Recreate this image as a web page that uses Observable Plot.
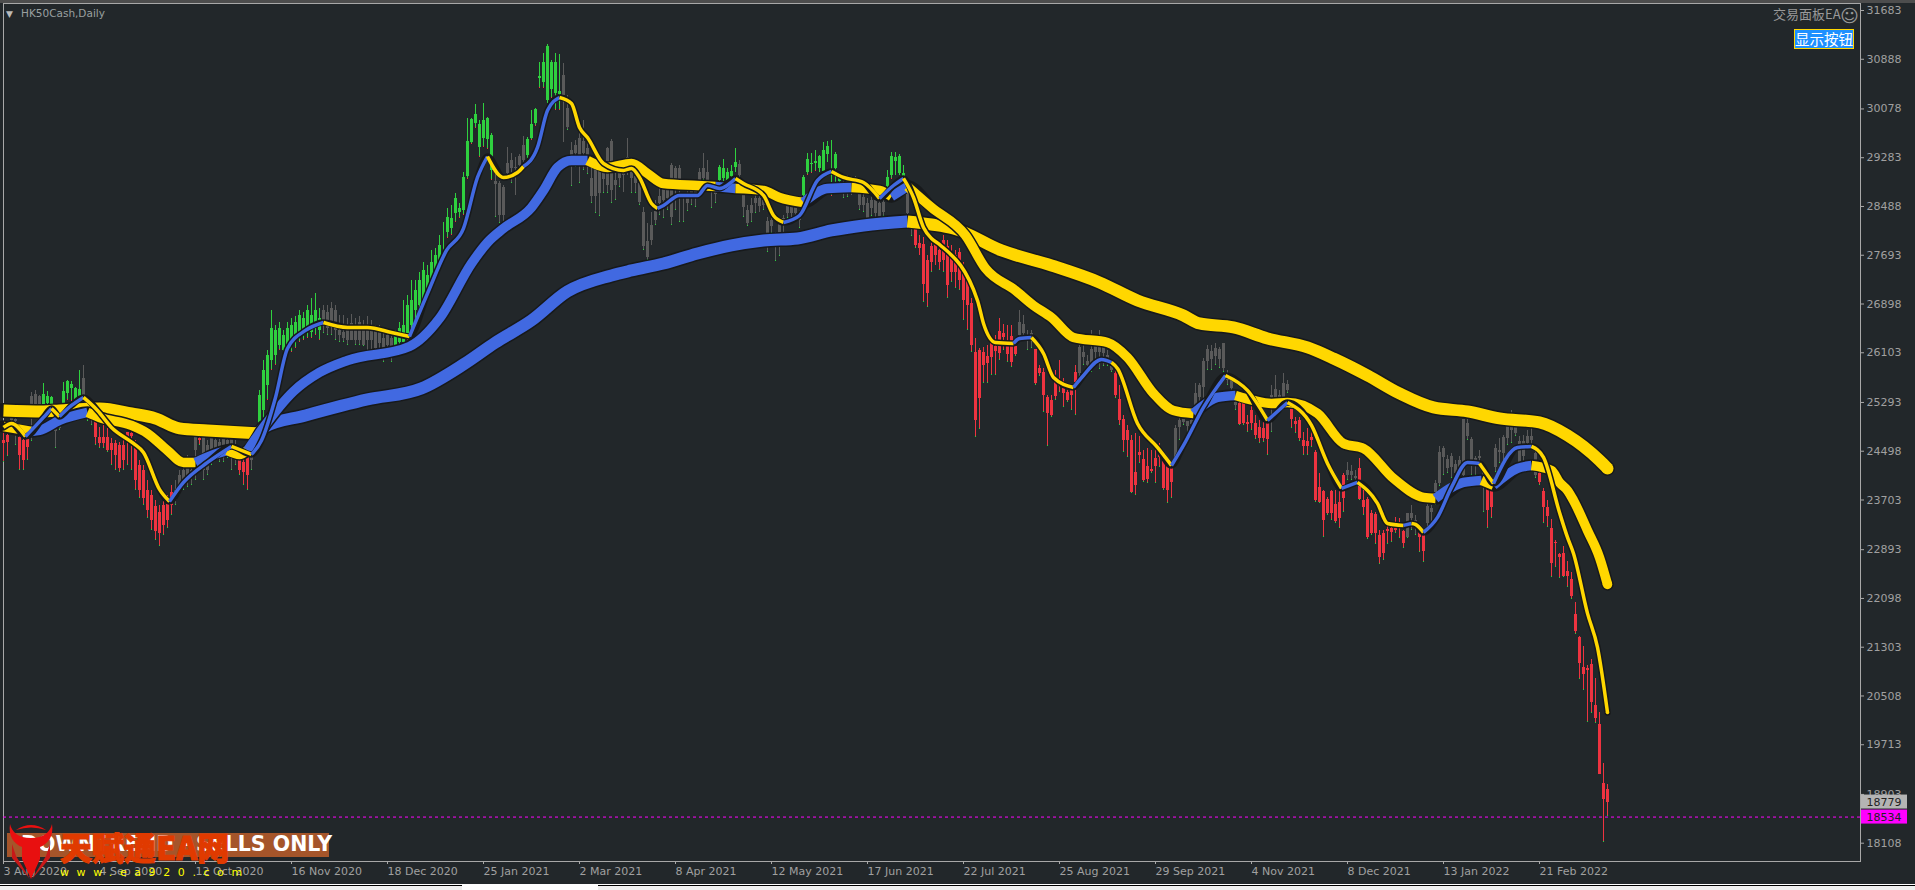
<!DOCTYPE html>
<html><head><meta charset="utf-8">
<script src="https://cdn.jsdelivr.net/npm/d3@7"></script>
<script src="https://cdn.jsdelivr.net/npm/@observablehq/plot@0.6"></script>
<style>
html,body{margin:0;padding:0;width:1915px;height:890px;overflow:hidden;background:#22272a}
#c{position:absolute;left:0;top:0}
.o{position:absolute;white-space:nowrap;font-family:"DejaVu Sans",sans-serif}
</style></head><body>
<div id="c"></div>
<div class="o" style="left:0;top:0;width:1915px;height:3px;background:#4d4d4d"></div>
<div class="o" style="left:0;top:884px;width:1915px;height:1px;background:#fff"></div>
<div class="o" style="left:0;top:885px;width:1915px;height:1px;background:#000"></div>
<div class="o" style="left:0;top:886px;width:1915px;height:4px;background:#f0f0f0"></div>
<div class="o" style="left:462px;top:885px;width:136px;height:5px;background:#fff"></div>
<div class="o" style="left:6px;top:9px;font-size:9px;color:#bbb">▼</div>
<div class="o" style="left:21px;top:7px;font-size:10.5px;color:#9aa0a0">HK50Cash,Daily</div>
<div class="o" style="left:1773px;top:4px;font-family:'Noto Sans CJK SC';font-size:13px;color:#999">交易面板EA</div>
<div class="o" style="left:1840px;top:5px;font-size:18px;color:#999">☺</div>
<div class="o" style="left:1794px;top:29px;width:58px;height:18px;background:#1e90ff;border:1px solid #ffd700;color:#fff;font-family:'Noto Sans CJK SC';font-size:14.5px;line-height:18px;text-align:center">显示按钮</div>
<div class="o" style="left:7px;top:833px;width:322px;height:24px;background:#a5552a"></div>
<div class="o" style="left:21px;top:832px;font-weight:bold;font-size:20.5px;line-height:24px;color:#fff">DOWNTREND - SELLS ONLY</div>
<div class="o" style="left:60px;top:824px;font-family:'Noto Sans CJK SC';font-weight:900;font-size:32px;line-height:44px;color:#e03a00;-webkit-text-stroke:1px #e03a00">天赋通EA网</div>
<svg class="o" style="left:8px;top:822px" width="46" height="58" viewBox="0 0 46 58">
<path d="M2 2C0 14 6 22 14 25L14 37L23 57L32 37L32 25C40 22 46 14 44 2C42 10 36 16 23 16C10 16 4 10 2 2Z" fill="#e81010"/>
<path d="M8 8Q23 -2 38 8Q23 3 8 8Z" fill="#e81010"/>
<path d="M4 22L4 36L22 57L8 34Z" fill="#c81818"/><path d="M42 22L42 36L24 57L38 34Z" fill="#c81818"/>
</svg>
<div class="o" style="left:60px;top:866px;font-size:11px;letter-spacing:7.6px;color:#ffff00">www.ea920.com</div>
<script>
const priceTicks = [31683,30888,30078,29283,28488,27693,26898,26103,25293,24498,23703,22893,22098,21303,20508,19713,18903,18108];
const dateBars = [0,24,48,72,96,120,144,168,192,216,240,264,288,312,336,360,384];
const dateLabels = ["3 Aug 2020","4 Sep 2020","12 Oct 2020","16 Nov 2020","18 Dec 2020","25 Jan 2021","2 Mar 2021","8 Apr 2021","12 May 2021","17 Jun 2021","22 Jul 2021","25 Aug 2021","29 Sep 2021","4 Nov 2021","8 Dec 2021","13 Jan 2022","21 Feb 2022"];
const bidPrice = 18534, lastPrice = 18779;

// rows: high, body top, body bottom, low
const bars0 = [[24804,24674,24625,24315],[24804,24755,24642,24413],[25081,25049,25000,24918],[25049,25016,24983,24592],[24755,24723,24430,24185],[24755,24674,24348,24185],[24690,24690,24560,24348],[25456,25391,25244,24658],[25489,25424,25244,25212],[25407,25391,25244,25196],[25603,25424,25244,25196],[25473,25391,25277,25244],[25391,25375,25261,25228],[24918,24870,24821,24544],[24951,24918,24870,24837],[25619,25473,25244,25196],[25652,25635,25440,25326],[25635,25587,25521,25309],[25538,25521,25342,25277],[25815,25505,25375,25326],[25896,25684,25407,25326],[25293,25244,25163,24983],[25244,25244,25163,24918],[25065,25000,24723,24592]];
const tone0 = "RRNNRRRNNNGGGNNGGGGGNNNR";
const bars1 = [[24886,24723,24625,24544],[24918,24723,24625,24544],[24870,24723,24511,24478],[24707,24625,24511,24266],[24674,24625,24430,24185],[24641,24592,24218,24152],[24772,24592,24348,24185],[24804,24804,24723,24266],[24820,24788,24739,24185],[24674,24592,24022,23859],[24348,24266,23859,23729],[24266,24185,23729,23614],[24022,23859,23533,23403],[23859,23778,23370,23207],[23696,23598,23191,23044],[23614,23500,23158,22946],[23696,23614,23288,23126],[23777,23696,23370,23240],[23940,23826,23614,23451],[24022,23859,23696,23615],[24185,24104,23859,23777],[24348,24185,23989,23859],[24429,24266,24055,23908],[24315,24185,24104,23940]];
const tone1 = "RRRRRRRRRRRRRRRRRRRNNNNN";
const bars2 = [[24804,24739,24511,24022],[24739,24707,24674,24593],[24755,24723,24185,24022],[24674,24593,24185,24104],[24837,24707,24430,24267],[24707,24674,24479,24348],[24804,24642,24430,24316],[24707,24707,24478,24316],[24837,24674,24511,24381],[24804,24707,24544,24185],[24674,24593,24430,24267],[24430,24381,24185,24104],[24430,24316,24153,23941],[24511,24430,24104,23859],[24593,24511,24348,24185],[24739,24674,24511,24430],[25489,25407,24804,24592],[25977,25815,25163,24918],[26141,26060,25571,25326],[26793,26499,25978,25815],[26548,26467,26060,25896],[26597,26499,26222,26141],[26467,26385,26141,25978],[26597,26499,26174,26060]];
const tone2 = "NRNNNNNNNNNRRRNGGGGGGGGG";
const bars3 = [[26662,26548,26222,26109],[26695,26597,26304,26174],[26793,26711,26385,26271],[26760,26662,26385,26304],[26874,26793,26467,26336],[26988,26711,26434,26336],[27070,26793,26548,26385],[26825,26662,26467,26304],[26874,26793,26548,26418],[26874,26760,26499,26385],[26923,26826,26598,26385],[26874,26793,26467,26304],[26711,26467,26386,26271],[26711,26434,26336,26271],[26662,26548,26304,26223],[26728,26581,26304,26304],[26662,26549,26304,26223],[26695,26598,26304,26223],[26630,26467,26222,26206],[26695,26516,26304,26109],[26630,26467,26304,25994],[26549,26467,26174,26109],[26549,26467,26255,26141],[26434,26336,26174,25945]];
const tone3 = "GGGGGGGGNNNNNNNNNNNNNNNN";
const bars4 = [[26467,26385,26223,26141],[26434,26336,26141,25945],[26467,26385,26174,26109],[26597,26499,26271,26174],[26956,26548,26271,26141],[27038,26874,26385,26304],[27282,26956,26548,26467],[27282,27119,26793,26597],[27412,27282,26874,26793],[27575,27445,26956,26874],[27526,27364,27119,26961],[27771,27575,27250,27152],[27804,27689,27364,27282],[28016,27853,27526,27412],[28228,27771,27771,27641],[28456,28309,28065,27967],[28504,28293,28130,28016],[28700,28619,28374,28228],[28537,28456,28391,28293],[29042,28961,28423,28342],[29923,29547,28977,28944],[29923,29906,29531,29499],[30151,29988,29841,29760],[29890,29825,29450,29287]];
const tone4 = "NNGGGGGGGGGGGGGGGGGGGGGG";
const bars5 = [[30167,29890,29597,29450],[29939,29923,29580,29433],[29678,29645,29075,28912],[29075,28896,28847,28309],[28896,28863,28342,28211],[28831,28798,28342,28211],[29450,29189,29026,28961],[29352,29238,29108,28863],[29287,29124,29108,28667],[29336,29303,29156,29075],[29629,29482,29238,29156],[29613,29580,29319,29156],[30053,29825,29596,29564],[30086,30069,29841,29808],[30835,30607,30575,30412],[30982,30835,30510,30412],[31129,31096,30216,30167],[30868,30835,30395,30249],[30982,30835,30330,30053],[30966,30363,30314,30053],[30819,30624,30298,29531],[30298,30086,29776,29727],[29531,29401,29319,28814],[29564,29482,29352,29124]];
const tone5 = "GGGNNNNNNNNGGGGGGGGGNNNN";
const bars6 = [[29678,29596,29319,28863],[29890,29547,29352,29075],[29564,29433,29319,29017],[29108,28945,28651,28537],[29156,29091,28651,28374],[29156,29091,28700,28325],[29156,29091,28929,28700],[29450,29433,28831,28700],[29580,29547,28749,28537],[29075,28912,28831,28586],[29156,29042,28945,28798],[29075,29042,28993,28716],[29596,29287,29222,28993],[29238,29075,28945,28700],[29156,28977,28863,28700],[29059,28863,28553,28505],[28472,28390,27836,27771],[28211,27917,27657,27608],[28390,28179,27934,27852],[28586,28407,28260,28179],[28782,28651,28537,28342],[28830,28765,28586,28293],[28912,28912,28619,28423],[29189,29156,28309,28179]];
const tone6 = "NNNNNNNNNNNNNNNNNNNNNNNN";
const bars7 = [[29140,29108,28798,28423],[29156,29108,28749,28228],[28619,28553,28553,28228],[28749,28668,28537,28407],[28830,28749,28619,28505],[28880,28749,28651,28472],[29108,29042,28912,28814],[29352,29108,28945,28912],[29238,29042,28912,28863],[28912,28830,28716,28456],[28879,28814,28684,28537],[29156,29124,28912,28814],[29254,29108,28945,28782],[29108,29042,28912,28830],[29156,29059,28977,28879],[29433,29205,29124,29042],[29238,29173,28993,28863],[28749,28667,28472,28309],[28504,28423,28211,28162],[28619,28504,28374,28228],[28716,28619,28537,28374],[28700,28619,28488,28390],[28651,28586,28505,28423],[28309,28244,28032,27738]];
const tone7 = "NNNNNNNNNNNGGGGGNNNNNNNN";
const bars8 = [[28293,28260,28162,28048],[28065,28016,27934,27592],[28260,28195,28032,27673],[28342,28293,28195,28016],[28553,28488,28374,28293],[28537,28488,28374,28260],[28537,28472,28374,28227],[28423,28342,28260,28130],[28993,28960,28667,28618],[29352,29254,29042,29005],[29352,29189,29173,29026],[29401,29222,29189,29059],[29319,29303,29108,29042],[29531,29401,29059,29026],[29548,29466,29336,29205],[29570,29335,29335,28651],[29368,29336,29108,28879],[28993,28945,28896,28847],[29010,28977,28945,28619],[28993,28945,28879,28635],[28977,28912,28846,28667],[28977,28912,28879,28700],[28700,28700,28505,28423],[28716,28635,28505,28391]];
const tone8 = "NNNNNNNNGGGGGGGGGGNNNNNN";
const bars9 = [[28619,28537,28276,28227],[28667,28586,28456,28325],[28667,28586,28374,28260],[28619,28537,28293,28260],[28619,28553,28390,28325],[29075,28961,28814,28716],[29368,29303,28993,28944],[29368,29287,29222,28993],[29336,29303,29026,28993],[29156,29026,28961,28879],[28716,28684,28374,28342],[28325,28293,28227,27999],[28179,28130,27853,27804],[28016,27885,27804,27689],[27983,27869,27217,26923],[27689,27608,27070,26842],[27934,27836,27575,27412],[27934,27869,27689,27526],[27852,27771,27575,27445],[28016,27934,27608,27412],[27934,27836,27201,26989],[27853,27738,27413,27250],[27771,27689,27412,27152],[27804,27738,27282,27119]];
const tone9 = "NNNNNGGGGGNNRRRRRRRRRRRR";
const bars10 = [[27575,27478,26956,26630],[27363,27282,26875,26467],[26989,26907,26222,26109],[26336,26109,24998,24723],[26173,26141,25359,24853],[26190,26109,25896,25603],[26222,26043,25928,25603],[26353,26255,26027,25733],[26385,26206,26125,25733],[26662,26450,26092,25978],[26564,26418,26353,26141],[26548,26206,26076,25945],[26548,26369,25945,25864],[26304,26206,26076,26043],[26793,26597,26385,26304],[26711,26564,26418,26337],[26467,26385,26320,26141],[26467,26418,26353,26174],[26157,26157,25603,25570],[25897,25848,25766,25717],[25846,25782,25407,25130],[25407,25375,25114,24576],[25407,25326,25082,25049],[25815,25636,25391,25326]];
const tone10 = "RRRRRRRRRRRRRRNNNNRRRRRR";
const bars11 = [[25978,25619,25554,25456],[25684,25554,25440,25212],[25570,25456,25326,25293],[25587,25489,25407,25163],[25896,25782,25619,25081],[26255,26190,25766,25717],[26223,26109,26027,25896],[26060,25961,25896,25848],[26467,26157,25880,25782],[26222,26223,26109,25945],[26467,26320,26109,25831],[26320,26206,26092,25880],[26141,26060,25945,25880],[25978,25880,25815,25782],[25815,25766,25407,25358],[25570,25342,25000,24918],[25081,25016,24674,24478],[24918,24837,24674,24397],[24755,24674,23826,23810],[24788,24152,23940,23778],[24739,24478,24430,24299],[24511,24364,24022,23989],[24544,24250,24038,23973],[24511,24201,24169,24136]];
const tone11 = "RRRRRNNNNNNNNNRRRRRRRRRR";
const bars12 = [[24527,24380,24250,23973],[24625,24446,24397,24234],[24397,24332,23892,23859],[24315,24250,23859,23647],[24266,24218,23989,23729],[24918,24870,24397,24266],[25114,24999,24886,24674],[25130,25065,24967,24918],[24984,24983,24902,24804],[25033,25000,24935,24870],[25603,25440,25212,25049],[25603,25570,25375,25130],[26011,25961,25537,25163],[26223,26157,25961,25815],[26223,26125,25994,25815],[26255,26174,26043,25896],[26190,26157,25994,25847],[26255,26255,25848,25782],[25815,25733,25651,25570],[25733,25652,25521,25407],[25359,25293,25244,25163],[25326,25277,24935,24918],[25359,25277,24951,24919],[25081,24967,24935,24804]];
const tone12 = "RRRRRNNNNNNNNNNNNNNNNRRR";
const bars13 = [[25228,25163,24951,24837],[25081,24951,24755,24690],[24998,24886,24707,24625],[25081,24870,24707,24641],[25032,24951,24690,24429],[25571,25407,25342,24804],[25733,25505,25375,25326],[25489,25407,25375,25244],[25766,25603,25375,25326],[25651,25586,25489,25440],[25244,25179,25016,24870],[25049,24983,24935,24788],[25049,25000,24707,24658],[24804,24674,24576,24430],[24870,24657,24576,24430],[24870,24723,24674,24560],[24511,24479,23696,23663],[24136,23908,23664,23647],[23859,23843,23370,23093],[23745,23712,23484,23451],[23859,23843,23484,23370],[23859,23631,23354,23321],[23859,23664,23403,23240],[24136,24104,23729,23500]];
const tone13 = "RRRRRNNNNNRRRRRRRRRRRRRR";
const bars14 = [[24315,24185,24104,24022],[24266,24169,24104,24022],[24185,24087,24055,23973],[24381,24217,23712,23696],[23859,23696,23582,23452],[23745,23712,23093,23060],[23533,23484,23158,23126],[23500,23468,23158,22979],[23207,23126,22767,22653],[23207,23158,22832,22718],[23288,23223,23190,22979],[23305,23240,23174,23011],[23419,23240,23207,23158],[23403,23289,23256,23077],[23207,23191,22995,22914],[23484,23484,23093,23077],[23614,23484,23403,23207],[23451,23370,23337,23126],[23240,23174,23093,22849],[23174,23142,22865,22686],[23647,23598,23321,23207],[23614,23565,23500,23321],[24022,23973,23826,23614],[24576,24478,23973,23924]];
const tone14 = "NNNRRRRRRRRRRRRNNNRRNNNN";
const bars15 = [[24576,24544,24397,24103],[24429,24364,24218,24136],[24462,24413,24234,24055],[24348,24283,24136,24103],[24413,24348,24152,24055],[25016,25016,24104,24071],[25016,24951,24739,24674],[24723,24690,24266,24103],[24413,24381,24315,24104],[24511,24413,24381,24266],[24266,24152,24022,23500],[23908,23875,23533,23240],[23908,23875,23582,23403],[24609,24544,24234,24152],[24706,24511,24479,24299],[24755,24723,24462,24152],[24918,24902,24707,24592],[25163,24886,24837,24625],[24918,24886,24788,24739],[24739,24657,24315,24266],[24755,24657,24413,24299],[24837,24739,24625,24560],[24870,24739,24674,24576],[24593,24462,24104,24055]];
const tone15 = "NNNNNNNNNNNRRNNNNNNNNNNN";
const bars16 = [[24185,24136,23990,23941],[23892,23843,23582,23321],[23696,23582,23435,23256],[23386,23240,22670,22441],[23044,23011,22995,22604],[22832,22816,22767,22425],[22946,22832,22457,22441],[22702,22539,22457,22278],[22522,22408,22131,22082],[22033,21838,21561,21512],[21479,21463,21039,20778],[21316,20974,20860,20599],[21007,20958,20925,20077],[21105,21023,20404,20224],[20794,20355,20144,20061],[20240,20045,19230,19230],[19409,19083,18822,18122],[19068,18985,18773,18545]];
const tone16 = "RRRRRRRRRRRRRRRRRR";

// rows: bar number, price, segment tone starting at that knot (Y falling, B rising)
const slowLine = [[0,25163,"Y"],[10,25147,"Y"],[14,25163,"Y"],[24,25196,"Y"],[32,25114,"Y"],[38,25033,"Y"],[44,24870,"Y"],[51,24837,"Y"],[64,24788,"B"],[65,24886,"B"],[75.5,25081,"B"],[91,25342,"B"],[104.5,25522,"B"],[115,25913,"B"],[123,26271,"B"],[132,26630,"B"],[141,27103,"B"],[152,27364,"B"],[157,27445,"B"],[165,27559,"B"],[173.5,27722,"B"],[182,27853,"B"],[190,27934,"B"],[198.5,27967,"B"],[207,28097,"B"],[215,28179,"B"],[226,28244,"Y"],[232,28195,"Y"],[237.5,28130,"Y"],[249.5,27771,"Y"],[262,27526,"Y"],[274,27250,"Y"],[283.5,26956,"Y"],[295,26711,"Y"],[299,26581,"Y"],[307.5,26516,"Y"],[316,26337,"Y"],[326,26190,"Y"],[332.5,26010,"Y"],[341,25733,"Y"],[349,25440,"Y"],[357.5,25212,"Y"],[366,25147,"Y"],[374,25033,"Y"],[384,24967,"Y"],[391,24755,"Y"],[399,24348,"Y"],[401,24218,"Y"]];
const midLine = [[0,24902,"Y"],[7,24821,"B"],[9,24837,"B"],[14,25000,"B"],[21,25130,"Y"],[24,25049,"Y"],[32,24918,"Y"],[36,24788,"Y"],[41,24511,"Y"],[45,24315,"Y"],[48,24315,"B"],[52,24430,"B"],[56,24511,"Y"],[59,24446,"Y"],[61,24511,"B"],[65,24886,"B"],[72.5,25473,"B"],[79,25782,"B"],[86,25978,"B"],[101.5,26206,"B"],[109,26663,"B"],[117,27559,"B"],[121,27901,"B"],[125,28130,"B"],[132,28472,"B"],[135,28749,"B"],[138.5,29124,"B"],[142,29238,"B"],[146,29238,"Y"],[151,29124,"Y"],[157,29189,"Y"],[161,29026,"Y"],[165,28863,"Y"],[173.5,28830,"Y"],[178,28814,"B"],[183,28782,"Y"],[190,28749,"Y"],[194,28635,"Y"],[200,28553,"B"],[206,28782,"B"],[212,28798,"Y"],[219,28749,"Y"],[222,28651,"B"],[226,28814,"Y"],[232,28472,"Y"],[240.5,28016,"Y"],[245.5,27478,"Y"],[253,27119,"Y"],[257.5,26875,"Y"],[262,26679,"Y"],[267.5,26353,"Y"],[276,26271,"Y"],[281,26027,"Y"],[287.5,25440,"Y"],[292.5,25163,"Y"],[297.5,25114,"B"],[299,25196,"B"],[303.5,25375,"B"],[308,25408,"Y"],[312.5,25326,"Y"],[317,25277,"Y"],[321,25293,"Y"],[328.5,25114,"Y"],[335,24625,"Y"],[340,24544,"Y"],[347.5,24055,"Y"],[355,23745,"Y"],[358,23729,"B"],[365,23989,"B"],[369.5,24022,"Y"],[372.5,23940,"B"],[378.5,24218,"B"],[382,24266,"Y"],[387,24185,"Y"],[389,23989,"Y"],[391,23859,"Y"],[392.5,23696,"Y"],[396,23207,"Y"],[399,22767,"Y"],[401,22327,"Y"]];
const fastLine = [[0,24886,"Y"],[2,24951,"Y"],[5.5,24739,"B"],[10,25049,"B"],[12,25196,"Y"],[14,25065,"B"],[17,25244,"B"],[20,25375,"Y"],[23.5,25163,"Y"],[27,24886,"Y"],[32.5,24625,"Y"],[35,24478,"Y"],[39,23875,"Y"],[41.5,23679,"B"],[45,23989,"B"],[51,24315,"B"],[57,24576,"Y"],[62,24446,"B"],[64.5,24674,"B"],[68,25375,"B"],[71,26174,"B"],[75.5,26467,"B"],[80,26597,"Y"],[86,26516,"Y"],[91,26516,"Y"],[97,26434,"Y"],[101.5,26369,"B"],[106,27070,"B"],[110.75,27771,"B"],[115,28130,"B"],[118.5,28961,"B"],[121,29303,"Y"],[125,28961,"Y"],[128.5,29042,"Y"],[130,29140,"B"],[133.5,29450,"B"],[136,30053,"B"],[139,30265,"Y"],[142,30167,"Y"],[144,29776,"Y"],[146,29613,"Y"],[150,29189,"Y"],[155,29075,"Y"],[157,29108,"Y"],[159,28961,"Y"],[162,28537,"Y"],[163.5,28456,"B"],[165,28505,"B"],[169,28668,"B"],[173.5,28668,"B"],[176,28830,"B"],[179,28782,"B"],[183,28945,"Y"],[185,28863,"Y"],[190,28668,"Y"],[192.5,28341,"Y"],[195,28228,"B"],[199,28341,"B"],[203.5,28912,"B"],[207,29059,"Y"],[210,28961,"Y"],[215,28879,"Y"],[219,28619,"B"],[222.5,28830,"B"],[225,28945,"Y"],[227.5,28635,"Y"],[230,28146,"Y"],[232,27966,"Y"],[234,27869,"Y"],[243.5,26956,"Y"],[245,26581,"Y"],[248,26271,"Y"],[252.5,26255,"B"],[254,26337,"B"],[257,26353,"Y"],[260,26092,"Y"],[262.5,25701,"Y"],[267.5,25538,"B"],[270,25733,"B"],[274.5,25994,"B"],[277,25945,"Y"],[278.5,25848,"Y"],[283.5,24951,"Y"],[288.5,24560,"Y"],[292,24266,"B"],[295,24592,"B"],[300,25212,"B"],[305.5,25733,"Y"],[311,25489,"Y"],[316,25000,"B"],[321,25293,"Y"],[327,24918,"Y"],[331,24299,"Y"],[334.5,23891,"B"],[338.5,23989,"Y"],[343.5,23647,"Y"],[346,23321,"Y"],[350,23289,"B"],[352,23321,"Y"],[353,23305,"Y"],[355,23174,"B"],[358.5,23419,"B"],[362,23908,"B"],[366,24315,"B"],[369,24299,"Y"],[372.5,23973,"B"],[378.5,24560,"B"],[382,24576,"Y"],[385,24397,"Y"],[389,23500,"Y"],[391,23093,"Y"],[392.5,22832,"Y"],[396,21854,"Y"],[398.5,21300,"Y"],[401,20240,"Y"]];

const barGroups = [bars0,bars1,bars2,bars3,bars4,bars5,bars6,bars7,bars8,bars9,bars10,bars11,bars12,bars13,bars14,bars15,bars16];
const toneText = tone0+tone1+tone2+tone3+tone4+tone5+tone6+tone7+tone8+tone9+tone10+tone11+tone12+tone13+tone14+tone15+tone16;
const candles = barGroups.flat().map((r,i)=>({i,high:r[0],top:Math.max(r[1],r[2]),bottom:Math.min(r[1],r[2]),low:r[3],tone:toneText[i]}));
const toneColor = {G:"#2fd03f",R:"#ee3340",N:"#5a5a5a"};
const lineColor = {Y:"#ffd700",B:"#4169e1"};
const halo = "#17191b";
const rows = a => a.map(([i,p,t])=>({i,p,t}));
function maLine(a,w){
  const d = rows(a);
  const curve = "monotone-x";
  return [
    Plot.line(d,{x:"i",y:"p",curve,stroke:halo,strokeWidth:w+3,strokeLinejoin:"round",strokeLinecap:"round"}),
    Plot.line(d,{x:"i",y:"p",curve,z:null,stroke:e=>lineColor[e.t],strokeWidth:w,strokeLinejoin:"round",strokeLinecap:"butt"}),
    Plot.dot([d[d.length-1]],{x:"i",y:"p",r:w/2,fill:e=>lineColor[e.t]})
  ];
}
const font = "'DejaVu Sans',sans-serif";
const chart = Plot.plot({
  width:1915,height:890,
  marginTop:3,marginRight:55,marginBottom:29,marginLeft:3,
  style:{background:"#22272a",fontFamily:font,fontSize:"11px",display:"block",maxWidth:"none"},
  x:{type:"linear",domain:[0,464.25],range:[3,1860]},
  y:{type:"linear",domain:[18108,31683],range:[842.7,10]},
  color:{type:"identity"},
  marks:[
    Plot.frame({stroke:"#a8a8a8"}),
    Plot.axisX({ticks:dateBars,tickFormat:i=>dateLabels[dateBars.indexOf(i)],tickSize:3,tickPadding:3,textAnchor:"start",color:"#a0a0a0",stroke:"#a8a8a8",fontSize:11,label:null}),
    Plot.axisY({anchor:"right",ticks:priceTicks,tickFormat:v=>String(v),tickSize:3,tickPadding:3,color:"#a0a0a0",stroke:"#a8a8a8",fontSize:11,label:null}),
    Plot.ruleX(candles,{x:"i",y1:"low",y2:"high",stroke:d=>toneColor[d.tone],strokeWidth:1,shapeRendering:"crispEdges"}),
    Plot.ruleX(candles,{x:"i",y1:d=>d.low-8,y2:d=>d.low+8,stroke:d=>d.tone==="G"?toneColor.R:toneColor.G,strokeWidth:1,shapeRendering:"crispEdges"}),
    Plot.ruleX(candles,{x:"i",y1:"bottom",y2:"top",stroke:d=>toneColor[d.tone],strokeWidth:3,shapeRendering:"crispEdges"}),
    ...maLine(slowLine,12),
    ...maLine(midLine,9.5),
    ...maLine(fastLine,3.5),
    Plot.ruleY([bidPrice],{stroke:"#ff00ff",strokeDasharray:"3,3",strokeWidth:1}),
    Plot.rect([lastPrice],{x1:464.5,x2:476,y1:d=>d-114,y2:d=>d+114,fill:"#b4b4b4"}),
    Plot.rect([bidPrice],{x1:464.5,x2:476,y1:d=>d-114,y2:d=>d+114,fill:"#ff00ff"}),
    Plot.text([lastPrice,bidPrice],{x:465.75,y:d=>d,text:d=>String(d),textAnchor:"start",fill:"#222",fontSize:11})
  ]
});
document.getElementById("c").appendChild(chart);
</script>
</body></html>
